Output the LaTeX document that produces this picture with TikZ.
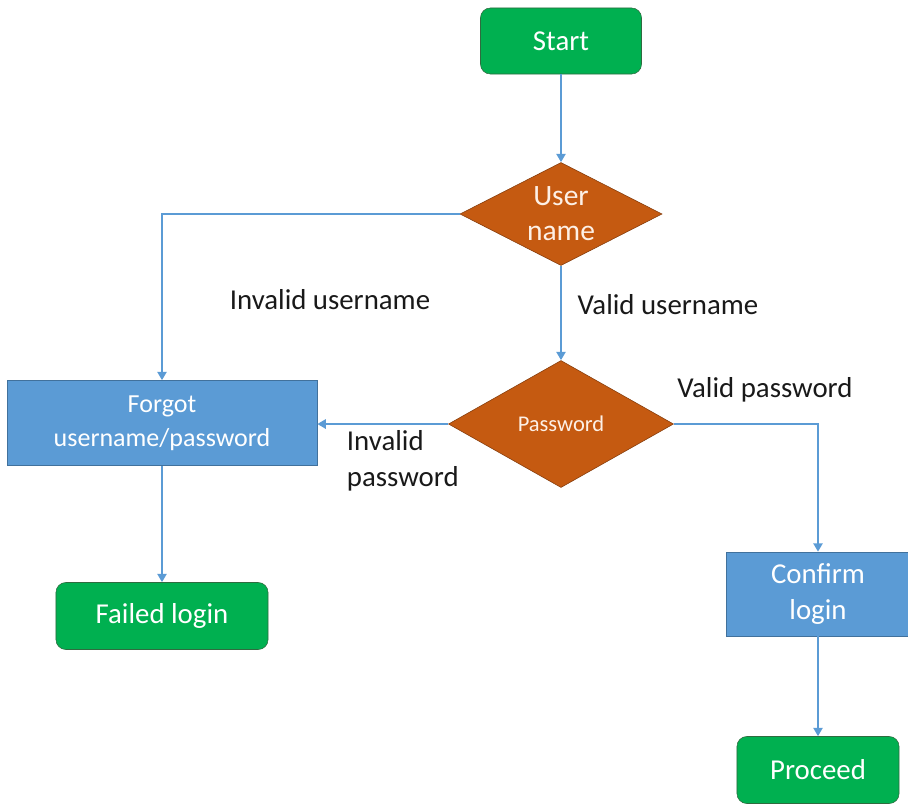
\documentclass[tikz,border=0pt]{standalone}
\usepackage{fontspec}
\setmainfont{Carlito}
\usetikzlibrary{
  shapes.geometric,
  arrows.meta,
  positioning
}
\usepackage{xcolor}
\definecolor{termgreen}{HTML}{00B050}
\definecolor{termedge}{HTML}{2F6B3F}
\definecolor{decorange}{HTML}{C55A11}
\definecolor{decedge}{HTML}{843C0C}
\definecolor{procblue}{HTML}{5B9BD5}
\definecolor{procedge}{HTML}{41719C}
\definecolor{flowblue}{HTML}{5B9BD5}
\definecolor{pinktext}{HTML}{FDF0E6}

\begin{document}
\begin{tikzpicture}[
  x=0.025cm, y=-0.025cm,
  my_terminal/.style={
    draw=termedge,
    fill=termgreen,
    rounded corners=7pt,
    text=white,
    font=\fontsize{20.5}{25}\selectfont,
  },
  my_process/.style={
    draw=procedge,
    fill=procblue,
    text=white,
    align=center,
    font=\fontsize{20.5}{25}\selectfont,
  },
  my_decision/.style={
    draw=decedge,
    fill=decorange,
    diamond,
    aspect=2,
    inner sep=0pt,
    text=pinktext,
    align=center,
    font=\fontsize{21}{25}\selectfont,
  },
  my_label/.style={
    text=black!90,
    font=\fontsize{20.5}{26}\selectfont,
  },
  my_flow/.style={
    draw=flowblue,
    line width=1.8pt,
    -{Triangle[length=6pt,width=6.5pt]},
  }
  ]

  \path[use as bounding box] (0,0) rectangle (908,805);

  \node[my_terminal, minimum width=4.025cm, minimum height=1.65cm] (start) at (561,41) {Start};
  \node[my_decision, minimum width=5.05cm, minimum height=2.575cm] (username) at (561,214) {User\\name};
  \node[my_decision, minimum width=5.625cm, minimum height=3.175cm, font=\fontsize{16}{19}\selectfont] (password) at (561,424) {Password};
  \node[my_process, minimum width=7.75cm, minimum height=2.125cm, font=\fontsize{18.5}{24}\selectfont] (forgot) at (162,423) {Forgot\\username/password};
  \node[my_terminal, minimum width=5.3cm, minimum height=1.675cm] (failed) at (162,616) {Failed login};
  \node[my_process, minimum width=4.6cm, minimum height=2.1cm] (confirm) at (818,594) {Confirm\\login};
  \node[my_terminal, minimum width=4.05cm, minimum height=1.675cm] (proceed) at (818,770) {Proceed};

  % branch labels
  \node[my_label] (invaliduser) at (330,300) {Invalid username};
  \node[my_label] (validuser) at (668,305) {Valid username};
  \node[my_label] (validpass) at (765,390) {Valid password};
  \node[my_label, align=left, anchor=west] (invalidpass) at (342,461) {Invalid\\password};

  % connectors
  \draw[my_flow] (start) -- (username);
  \draw[my_flow] (username.west) -| (forgot.north);
  \draw[my_flow] (username) -- (password);
  \draw[my_flow] (password.west) -- (password.west -| forgot.east);
  \draw[my_flow] (password.east) -| (confirm.north);
  \draw[my_flow] (forgot) -- (failed);
  \draw[my_flow] (confirm) -- (proceed);

\end{tikzpicture}
\end{document}
